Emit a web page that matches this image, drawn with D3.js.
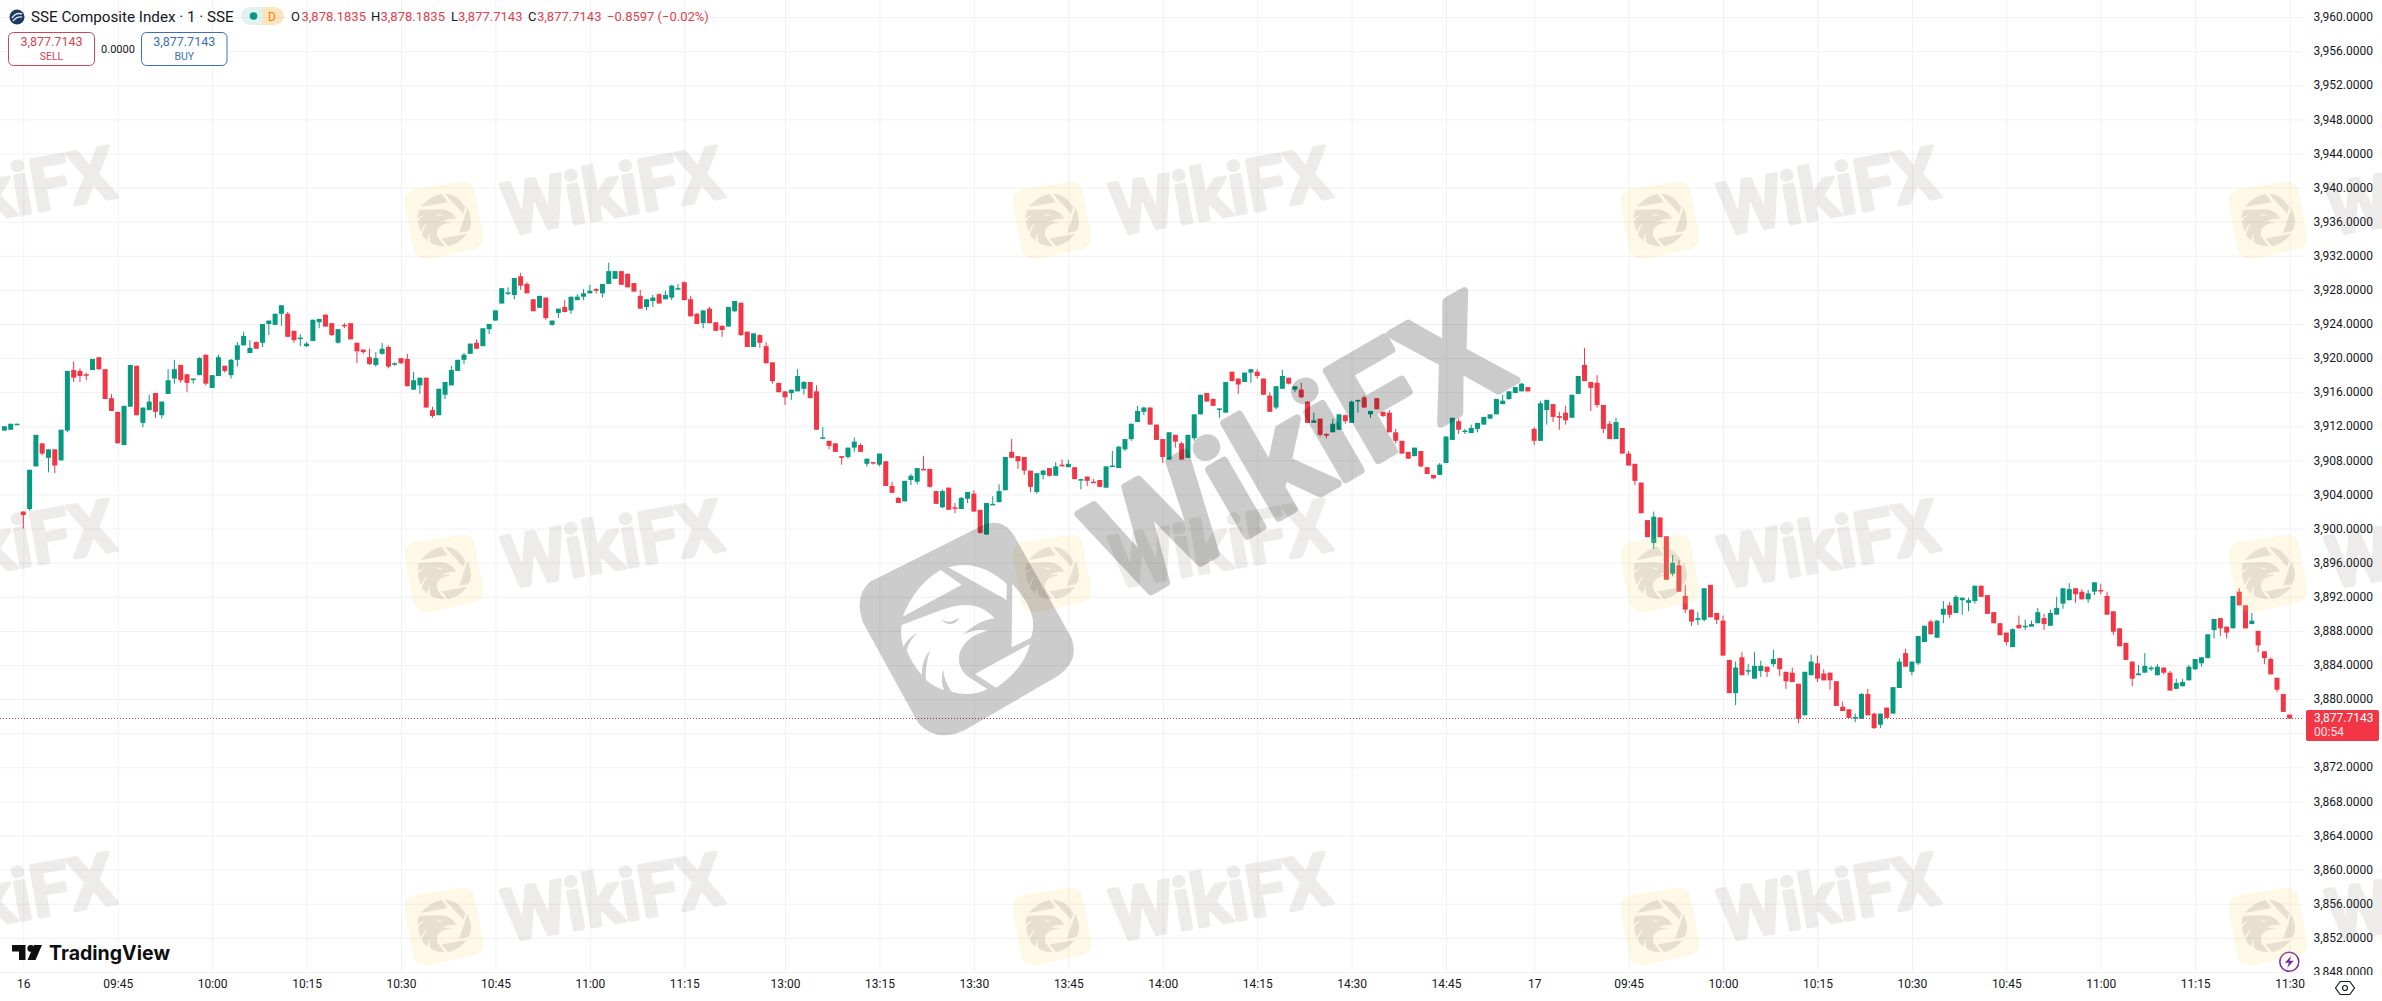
<!DOCTYPE html>
<html>
<head>
<meta charset="utf-8">
<title>SSE Composite Index</title>
<script src="https://cdn.jsdelivr.net/npm/d3@7"></script>
<style>
    html, body { margin: 0; padding: 0; background: #fff; overflow: hidden; }
    text { font-family: Roboto, "Liberation Sans", sans-serif; }
</style>
</head>
<body>
<div id="chart"></div>
<script>
// One-minute candles, first three bars are the tail of the previous session
const opens = [
    3911.5,3911.6,3912.2,3902.0,3902.3,3907.3,3910.0,3908.3,3909.3,3908.0,
    3911.5,3918.6,3918.5,3918.1,3918.6,3920.1,3918.7,3915.3,3913.7,3909.8,
    3914.3,3919.1,3912.4,3913.9,3915.9,3913.3,3915.8,3917.6,3919.2,3918.1,
    3917.5,3918.0,3920.4,3916.5,3917.9,3919.1,3918.0,3919.8,3921.5,3920.6,
    3921.9,3921.8,3924.0,3923.9,3925.2,3925.2,3923.2,3922.3,3921.4,3922.0,
    3924.2,3925.1,3924.1,3921.8,3923.9,3924.1,3921.8,3921.0,3920.1,3919.2,
    3920.5,3921.3,3919.3,3920.0,3919.9,3916.3,3916.8,3917.7,3913.9,3913.3,
    3915.7,3916.8,3918.5,3919.8,3920.5,3921.8,3921.4,3923.4,3924.4,3926.4,
    3927.6,3927.4,3929.6,3928.7,3926.9,3925.9,3927.1,3923.9,3925.3,3926.0,
    3925.6,3926.8,3927.2,3927.6,3928.1,3927.6,3928.7,3929.3,3930.2,3929.9,
    3928.8,3927.3,3926.0,3926.7,3927.5,3926.9,3927.1,3928.1,3928.9,3926.9,
    3925.2,3924.1,3925.8,3924.2,3923.8,3923.7,3925.5,3926.5,3923.1,3921.3,
    3922.7,3921.4,3919.5,3917.1,3916.1,3915.9,3916.1,3916.4,3917.2,3916.1,
    3910.6,3910.3,3910.0,3908.5,3908.4,3909.5,3909.8,3907.6,3907.8,3907.5,
    3907.9,3905.0,3903.6,3903.2,3905.7,3905.5,3907.0,3907.0,3904.4,3902.5,
    3904.8,3902.5,3902.3,3903.5,3904.1,3902.2,3899.3,3902.8,3903.1,3904.5,
    3909.0,3908.5,3908.4,3906.8,3904.3,3906.3,3907.1,3906.2,3907.5,3907.2,
    3907.2,3905.7,3906.1,3905.5,3905.7,3904.8,3907.3,3907.1,3909.3,3910.5,
    3912.5,3913.7,3914.2,3912.2,3910.5,3908.1,3911.0,3910.0,3908.3,3910.6,
    3913.4,3915.9,3915.2,3914.0,3913.6,3918.4,3917.6,3917.2,3918.3,3918.4,
    3917.6,3915.6,3914.2,3916.4,3917.7,3916.3,3916.3,3914.9,3912.4,3912.9,
    3911.1,3911.3,3911.6,3913.3,3912.4,3914.9,3915.4,3913.4,3915.3,3913.7,
    3913.6,3911.3,3910.3,3909.0,3908.5,3909.1,3907.2,3906.3,3906.3,3907.7,
    3910.4,3912.6,3911.4,3911.2,3911.7,3912.2,3912.9,3913.4,3914.6,3915.2,
    3915.9,3916.1,3916.6,3911.7,3910.3,3913.9,3914.6,3913.2,3913.6,3913.0,
    3915.8,3919.2,3917.2,3917.1,3914.5,3912.3,3910.5,3911.8,3908.8,3907.6,
    3905.4,3901.0,3898.3,3901.3,3899.1,3894.7,3895.7,3892.1,3890.5,3889.3,
    3889.3,3893.4,3890.1,3889.2,3884.6,3880.7,3884.9,3883.3,3882.4,3883.3,
    3883.8,3884.1,3884.8,3883.2,3883.1,3881.8,3878.1,3882.8,3884.2,3883.0,
    3883.1,3882.1,3879.1,3878.8,3877.8,3877.7,3880.6,3878.3,3877.0,3879.0,
    3878.3,3881.3,3885.4,3883.2,3884.2,3886.7,3889.1,3887.2,3889.9,3891.0,
    3890.1,3891.6,3891.3,3891.5,3893.3,3892.2,3890.2,3888.9,3887.8,3886.1,
    3888.7,3888.5,3888.5,3888.9,3889.5,3888.6,3889.9,3891.2,3891.6,3893.0,
    3892.6,3891.7,3892.6,3892.8,3892.1,3890.3,3888.3,3886.6,3884.4,3882.8,
    3883.1,3883.5,3882.8,3883.7,3883.1,3881.2,3881.5,3882.2,3883.5,3884.2,
    3884.8,3888.1,3889.5,3888.5,3888.3,3892.6,3891.0,3888.8,3888.0,3885.6,
    3884.7,3882.5,3880.6,3878.1835
];
const highs = [
    3912.0,3912.3,3912.3,3902.0,3906.9,3911.0,3910.0,3909.3,3909.3,3911.6,
    3918.5,3919.6,3918.8,3918.3,3919.9,3920.1,3918.7,3915.8,3913.7,3914.4,
    3919.2,3919.1,3914.2,3915.7,3915.9,3914.9,3918.7,3919.8,3919.2,3918.1,
    3917.6,3920.1,3920.4,3918.0,3920.4,3919.1,3919.9,3921.9,3923.1,3922.1,
    3921.9,3924.0,3924.4,3925.2,3926.2,3925.4,3923.2,3922.8,3921.9,3924.5,
    3924.6,3925.1,3924.1,3923.4,3924.1,3924.1,3921.8,3921.0,3921.1,3920.7,
    3921.8,3921.5,3919.5,3920.0,3920.5,3918.4,3917.7,3917.7,3914.3,3916.4,
    3917.2,3919.1,3919.8,3920.6,3921.7,3922.2,3923.5,3924.0,3925.6,3928.2,
    3928.3,3929.4,3930.0,3928.9,3926.9,3927.3,3927.1,3924.4,3925.8,3926.8,
    3927.2,3927.5,3928.1,3928.6,3928.2,3928.7,3931.2,3930.2,3930.2,3929.9,
    3928.8,3928.0,3926.9,3927.4,3927.6,3927.9,3928.6,3928.7,3929.0,3927.3,
    3925.3,3925.6,3926.0,3924.2,3923.8,3926.0,3926.7,3926.5,3923.1,3922.9,
    3922.8,3921.9,3919.5,3917.1,3916.1,3916.3,3918.7,3917.3,3917.2,3916.8,
    3911.9,3910.3,3910.0,3908.5,3909.5,3910.7,3910.0,3908.2,3907.8,3908.8,
    3907.9,3905.5,3903.7,3905.6,3906.4,3907.1,3908.5,3907.0,3904.4,3904.6,
    3904.8,3903.0,3903.7,3904.3,3904.5,3902.2,3903.0,3903.8,3905.2,3908.4,
    3910.5,3908.5,3908.4,3906.8,3906.5,3906.9,3907.1,3907.8,3908.1,3908.1,
    3907.2,3905.8,3906.1,3905.8,3905.7,3907.3,3909.1,3909.7,3910.5,3912.3,
    3914.4,3914.3,3914.2,3912.2,3910.5,3911.3,3911.0,3910.2,3911.0,3913.4,
    3915.7,3915.9,3915.3,3914.1,3917.2,3918.4,3917.6,3918.3,3918.7,3918.7,
    3917.6,3916.0,3916.7,3918.6,3917.7,3916.7,3917.1,3914.9,3913.6,3912.9,
    3911.2,3912.9,3913.4,3913.4,3915.0,3915.1,3915.6,3913.8,3915.3,3913.7,
    3913.9,3911.7,3910.3,3909.0,3909.5,3909.1,3907.2,3906.3,3907.7,3910.8,
    3913.0,3912.9,3911.7,3912.2,3912.4,3913.1,3913.4,3915.2,3915.7,3916.1,
    3916.6,3917.1,3916.6,3911.9,3915.0,3915.1,3914.6,3913.7,3914.4,3915.7,
    3917.9,3921.2,3917.2,3918.0,3914.5,3912.6,3913.0,3911.8,3909.1,3907.6,
    3905.4,3901.0,3902.0,3901.3,3899.1,3896.9,3896.3,3893.4,3890.5,3890.2,
    3893.0,3893.4,3890.1,3889.8,3884.6,3884.4,3885.5,3884.1,3885.5,3884.5,
    3883.8,3885.8,3884.8,3883.2,3883.7,3881.8,3883.2,3885.2,3885.1,3883.5,
    3883.1,3882.1,3879.7,3878.8,3878.3,3880.7,3881.2,3878.4,3878.3,3879.0,
    3881.4,3884.8,3885.9,3884.4,3887.4,3888.6,3889.3,3889.3,3891.5,3891.4,
    3892.2,3891.9,3891.9,3893.3,3893.3,3892.2,3890.2,3888.9,3887.8,3888.3,
    3889.8,3889.3,3889.2,3890.7,3890.0,3890.5,3892.0,3893.0,3893.6,3893.0,
    3892.9,3892.8,3893.7,3893.5,3892.6,3890.3,3888.3,3886.6,3884.4,3884.0,
    3885.4,3883.9,3884.1,3883.7,3883.3,3882.4,3882.4,3884.0,3884.7,3884.9,
    3887.6,3889.4,3889.5,3888.5,3892.1,3893.0,3891.0,3890.1,3888.0,3885.6,
    3884.9,3882.5,3880.6,3878.1835
];
const lows = [
    3911.5,3911.6,3912.2,3900.0,3902.1,3907.3,3908.6,3906.6,3906.5,3908.0,
    3911.3,3917.2,3917.2,3917.4,3918.6,3918.6,3915.2,3913.8,3910.0,3909.8,
    3914.3,3913.3,3911.9,3913.9,3913.0,3912.9,3915.8,3917.0,3917.1,3916.0,
    3917.0,3918.0,3916.8,3916.5,3917.9,3918.3,3917.6,3919.0,3921.5,3920.6,
    3921.1,3921.3,3922.7,3923.9,3923.8,3922.5,3921.8,3921.4,3921.3,3922.0,
    3923.5,3923.7,3922.6,3921.7,3923.5,3922.2,3919.4,3920.5,3919.2,3919.0,
    3920.4,3918.8,3919.1,3919.3,3916.7,3916.3,3915.8,3914.2,3913.0,3913.3,
    3915.2,3916.8,3918.5,3919.3,3920.5,3921.1,3921.4,3922.8,3924.4,3926.4,
    3927.4,3926.9,3928.0,3927.6,3925.5,3925.9,3924.5,3923.8,3924.7,3925.4,
    3925.2,3926.8,3926.8,3927.6,3927.6,3927.1,3928.7,3929.3,3928.6,3928.3,
    3927.8,3925.8,3925.6,3926.0,3926.4,3926.9,3926.8,3928.1,3926.8,3924.9,
    3924.0,3923.5,3924.1,3923.2,3922.5,3923.7,3925.4,3922.6,3921.3,3921.3,
    3921.2,3919.4,3917.0,3916.0,3914.5,3915.1,3916.1,3915.7,3915.3,3911.6,
    3910.6,3909.3,3909.0,3907.5,3908.2,3909.0,3909.0,3907.3,3907.5,3907.3,
    3905.0,3904.2,3903.0,3903.2,3905.1,3905.2,3906.9,3904.8,3902.9,3902.4,
    3902.2,3901.8,3902.3,3903.0,3902.0,3899.4,3899.3,3902.8,3903.1,3904.5,
    3908.3,3907.0,3906.3,3904.3,3904.1,3905.8,3906.1,3906.2,3907.3,3907.2,
    3905.8,3904.6,3905.0,3905.4,3904.9,3904.8,3907.3,3907.1,3909.1,3910.3,
    3912.5,3913.3,3912.2,3910.4,3907.7,3908.1,3909.5,3908.1,3908.3,3910.3,
    3913.4,3914.9,3914.4,3913.0,3913.6,3917.3,3915.8,3917.2,3917.1,3917.6,
    3915.7,3913.7,3914.0,3916.4,3916.9,3916.0,3915.3,3912.4,3912.4,3910.8,
    3910.6,3911.3,3911.6,3912.3,3912.4,3913.6,3914.2,3913.0,3914.0,3913.1,
    3911.3,3910.0,3908.8,3908.2,3908.5,3907.2,3906.4,3905.8,3906.3,3907.7,
    3910.4,3911.1,3911.1,3911.2,3911.3,3912.2,3912.9,3913.4,3914.6,3915.1,
    3915.9,3916.1,3916.1,3909.8,3910.3,3912.2,3912.5,3911.6,3912.2,3913.0,
    3915.8,3917.3,3913.8,3914.2,3911.2,3910.5,3910.5,3908.8,3907.4,3905.1,
    3901.8,3899.0,3897.6,3899.0,3894.0,3894.4,3892.6,3890.1,3888.6,3888.7,
    3889.1,3889.6,3888.8,3885.1,3880.7,3879.3,3882.8,3882.8,3882.4,3882.6,
    3882.6,3883.8,3882.7,3881.2,3882.0,3877.2,3878.1,3882.8,3882.0,3882.2,
    3881.1,3879.2,3878.6,3877.8,3877.3,3877.7,3878.1,3876.5,3876.6,3877.8,
    3878.3,3881.3,3883.8,3882.8,3884.0,3886.7,3887.6,3887.2,3888.9,3889.5,
    3890.1,3889.9,3890.3,3891.2,3892.0,3890.0,3888.9,3887.5,3886.3,3886.1,
    3888.3,3888.1,3888.5,3888.9,3888.1,3888.6,3889.9,3890.6,3891.6,3891.3,
    3891.7,3891.3,3892.2,3892.3,3889.9,3887.5,3886.2,3884.6,3881.5,3882.8,
    3883.1,3883.3,3882.8,3882.9,3881.0,3881.2,3881.5,3882.2,3883.4,3883.8,
    3884.8,3887.1,3887.4,3887.1,3888.3,3891.0,3888.3,3888.8,3885.5,3884.1,
    3882.9,3880.8,3878.5,3877.7143
];
const closes = [
    3912.0,3912.3,3912.3,3901.6,3906.9,3911.0,3908.8,3909.3,3907.4,3911.6,
    3918.5,3917.7,3917.9,3918.0,3919.9,3918.7,3915.2,3913.8,3910.0,3914.4,
    3919.2,3913.3,3914.2,3914.9,3913.7,3914.9,3917.4,3918.7,3917.4,3917.1,
    3917.6,3920.0,3917.0,3918.0,3920.1,3918.5,3919.8,3921.5,3922.6,3921.2,
    3921.1,3924.0,3924.4,3925.2,3926.2,3922.5,3922.1,3922.4,3921.7,3924.5,
    3924.6,3923.7,3922.7,3923.4,3923.8,3922.2,3920.8,3920.7,3919.3,3920.0,
    3921.1,3919.0,3919.4,3919.4,3916.7,3917.4,3917.7,3914.2,3913.2,3916.4,
    3917.2,3918.6,3919.8,3920.4,3921.7,3921.1,3923.5,3924.0,3925.6,3928.2,
    3927.7,3929.4,3928.5,3927.6,3925.5,3927.3,3924.7,3924.4,3925.8,3925.4,
    3927.2,3927.2,3927.6,3927.9,3927.9,3928.7,3930.2,3930.2,3928.6,3928.3,
    3927.8,3925.8,3926.9,3927.1,3926.4,3927.4,3928.5,3928.2,3926.8,3924.9,
    3924.0,3925.6,3924.1,3923.2,3923.3,3926.0,3926.7,3922.7,3921.3,3922.9,
    3921.8,3919.4,3917.3,3916.0,3915.4,3916.3,3917.9,3917.2,3915.3,3911.6,
    3910.7,3909.7,3909.0,3908.3,3909.5,3910.2,3909.0,3908.2,3907.7,3908.8,
    3905.0,3904.2,3903.0,3905.6,3906.2,3907.1,3906.9,3904.9,3902.9,3904.4,
    3902.2,3902.4,3903.6,3904.3,3902.0,3899.5,3903.0,3902.9,3904.4,3908.4,
    3908.3,3907.9,3906.8,3904.9,3906.5,3906.8,3906.2,3907.3,3907.3,3907.6,
    3905.8,3905.8,3905.6,3905.4,3904.9,3907.3,3907.4,3909.6,3910.5,3912.3,
    3913.8,3914.2,3912.2,3910.4,3908.4,3911.3,3910.2,3908.1,3911.0,3913.4,
    3915.7,3914.9,3914.4,3914.1,3917.2,3917.3,3916.9,3918.3,3918.7,3917.9,
    3915.7,3913.7,3916.7,3917.9,3917.0,3916.7,3915.4,3912.4,3912.7,3911.0,
    3910.9,3912.3,3913.4,3912.6,3914.9,3915.1,3914.2,3913.8,3914.0,3913.2,
    3911.3,3910.3,3908.8,3908.2,3909.5,3907.3,3906.4,3905.9,3907.5,3910.8,
    3913.0,3911.6,3911.5,3911.8,3912.4,3913.1,3913.4,3915.2,3915.0,3916.1,
    3916.6,3917.0,3916.1,3910.3,3914.7,3915.1,3913.1,3913.0,3912.7,3915.7,
    3917.9,3917.3,3916.5,3914.5,3911.7,3910.5,3912.5,3908.8,3907.4,3905.6,
    3901.8,3899.0,3901.4,3899.0,3894.0,3896.0,3892.6,3890.5,3889.1,3889.5,
    3893.0,3889.6,3889.3,3885.1,3880.7,3883.7,3882.8,3883.4,3883.9,3883.9,
    3883.2,3884.7,3883.5,3882.1,3882.0,3877.7,3883.2,3884.4,3882.4,3882.2,
    3882.2,3879.2,3878.6,3877.8,3877.9,3880.6,3878.1,3876.6,3878.3,3877.8,
    3881.4,3884.4,3883.8,3884.4,3887.4,3888.6,3887.6,3889.2,3890.6,3889.9,
    3892.0,3891.9,3891.6,3893.3,3892.0,3890.0,3888.9,3887.5,3886.7,3888.2,
    3888.3,3888.6,3888.8,3890.2,3888.8,3890.1,3890.7,3893.0,3892.9,3892.3,
    3891.7,3892.4,3893.7,3892.7,3889.9,3887.9,3886.2,3884.6,3882.4,3883.0,
    3883.9,3883.7,3883.8,3883.1,3881.0,3881.9,3882.0,3883.8,3884.7,3884.9,
    3887.6,3889.4,3888.3,3887.8,3892.1,3891.0,3888.3,3889.2,3886.3,3884.8,
    3882.9,3881.1,3878.5,3877.7143
];
const firstBar = -3;

const timeTickBars = [0, 15, 30, 45, 60, 75, 90, 105, 121, 136, 151, 166, 181, 196, 211, 226, 240, 255, 270, 285, 300, 315, 330, 345, 360];
const timeTickLabels = ['16', '09:45', '10:00', '10:15', '10:30', '10:45', '11:00', '11:15', '13:00', '13:15', '13:30', '13:45', '14:00', '14:15', '14:30', '14:45', '17', '09:45', '10:00', '10:15', '10:30', '10:45', '11:00', '11:15', '11:30'];
const priceTicks = [3848, 3852, 3856, 3860, 3864, 3868, 3872, 3876, 3880, 3884, 3888, 3892, 3896, 3900, 3904, 3908, 3912, 3916, 3920, 3924, 3928, 3932, 3936, 3940, 3944, 3948, 3952, 3956, 3960];
const lastPrice = 3877.7143;

const width = 2382;
const height = 1001;
const paneRight = 2303;
const paneBottom = 971;
const UP = '#089981';
const DOWN = '#F23645';
const GRID = '#f0f1f4';
const INK = '#131722';

const x = d3.scaleLinear().domain([0, 360]).range([23.3, 2289.6]);
const y = d3.scaleLinear().domain([3848, 3960]).range([971.9, 17.1]);
const priceFormat = d3.format(',.4f');

const svg = d3.select('#chart').append('svg')
    .attr('width', width)
    .attr('height', height)
    .style('display', 'block');

svg.append('rect').attr('width', width).attr('height', height).attr('fill', '#fff');

const defs = svg.append('defs');
defs.append('clipPath').attr('id', 'price-clip')
    .append('rect').attr('x', 2304).attr('y', 0).attr('width', 78).attr('height', 975);

// Grid comes from the axes themselves
svg.append('g')
    .attr('transform', `translate(${paneRight},0)`)
    .call(d3.axisLeft(y).tickValues(priceTicks).tickSize(paneRight).tickFormat(''))
    .call(g => g.select('.domain').remove())
    .call(g => g.selectAll('line').attr('stroke', GRID));

svg.append('g')
    .attr('transform', `translate(0,${paneBottom})`)
    .call(d3.axisTop(x).tickValues(timeTickBars).tickSize(paneBottom).tickFormat(''))
    .call(g => g.select('.domain').remove())
    .call(g => g.selectAll('line').attr('stroke', GRID));

// Candles
const bars = closes.map((c, i) => ({
    bar: firstBar + i,
    open: opens[i],
    high: highs[i],
    low: lows[i],
    close: c
}));
const colorOf = d => d.close >= d.open ? UP : DOWN;

const candles = svg.append('g').selectAll('g').data(bars).join('g');

candles.append('line')
    .attr('x1', d => x(d.bar))
    .attr('x2', d => x(d.bar))
    .attr('y1', d => y(d.high))
    .attr('y2', d => y(d.low))
    .attr('stroke', colorOf)
    .attr('stroke-width', 1);

candles.append('rect')
    .attr('x', d => x(d.bar) - 2.5)
    .attr('width', 5)
    .attr('y', d => y(Math.max(d.open, d.close)))
    .attr('height', d => Math.max(Math.abs(y(d.open) - y(d.close)), 1.5))
    .attr('fill', colorOf);

// Last price line
svg.append('line')
    .attr('x1', 0)
    .attr('x2', paneRight)
    .attr('y1', Math.floor(y(lastPrice)) + 0.5)
    .attr('y2', Math.floor(y(lastPrice)) + 0.5)
    .attr('stroke', '#b0414c')
    .attr('stroke-width', 1)
    .attr('stroke-dasharray', '1 2');

// Price axis, the 3,876 label sits under the last price tag so it is left out
svg.append('g')
    .attr('clip-path', 'url(#price-clip)')
    .append('g')
    .attr('transform', 'translate(2373,0)')
    .call(d3.axisRight(y).tickValues(priceTicks.filter(d => d !== 3876)).tickSize(0).tickPadding(0).tickFormat(priceFormat))
    .call(g => g.select('.domain').remove())
    .call(g => g.selectAll('text')
        .attr('text-anchor', 'end')
        .attr('dy', '0.3em')
        .attr('fill', INK)
        .style('font-family', 'Roboto')
        .style('font-size', '12px'));

// Time axis
svg.append('g')
    .attr('transform', 'translate(0,979)')
    .call(d3.axisBottom(x).tickValues(timeTickBars).tickSize(0).tickPadding(0)
        .tickFormat((d, i) => timeTickLabels[i]))
    .call(g => g.select('.domain').remove())
    .call(g => g.selectAll('text')
        .attr('fill', INK)
        .style('font-family', 'Roboto')
        .style('font-size', '12px'));

// Last price tag
svg.append('rect')
    .attr('x', 2306).attr('y', 710)
    .attr('width', 73).attr('height', 31)
    .attr('rx', 2)
    .attr('fill', DOWN);
svg.append('text')
    .attr('x', 2314).attr('y', 722)
    .attr('fill', '#fff')
    .attr('font-size', 12)
    .text(priceFormat(lastPrice));
svg.append('text')
    .attr('x', 2314).attr('y', 736)
    .attr('fill', '#ffe3e6')
    .attr('font-size', 12)
    .text('00:54');

// Header: symbol logo and name
const logo = svg.append('g').attr('transform', 'translate(17,17)');
logo.append('circle').attr('r', 7.5).attr('fill', '#1e3a63');
logo.append('path').attr('d', 'M-5,1 Q-1,-5 5,-3').attr('fill', 'none').attr('stroke', '#dfe8f5').attr('stroke-width', 1.4);
logo.append('path').attr('d', 'M-4,4 Q0,-1 5,0').attr('fill', 'none').attr('stroke', '#dfe8f5').attr('stroke-width', 1.4);

svg.append('text')
    .attr('x', 31).attr('y', 22)
    .attr('fill', INK)
    .attr('font-size', 15.2)
    .text('SSE Composite Index · 1 · SSE');

// Market status pill
svg.append('path').attr('d', 'M250,7 H262 V25 H250 a9,9 0 0 1 0,-18 Z').attr('fill', '#089981').attr('opacity', 0.12);
svg.append('path').attr('d', 'M262,7 H275 a9,9 0 0 1 0,18 H262 Z').attr('fill', '#ff9800').attr('opacity', 0.25);
svg.append('circle').attr('cx', 253.5).attr('cy', 16).attr('r', 3.8).attr('fill', UP);
svg.append('text')
    .attr('x', 272).attr('y', 20.5)
    .attr('text-anchor', 'middle')
    .attr('fill', '#f57c00')
    .attr('font-size', 12)
    .text('D');

// OHLC readout
const legend = [
    { label: 'O', value: '3,878.1835', lx: 291, vx: 301.5 },
    { label: 'H', value: '3,878.1835', lx: 371, vx: 380.5 },
    { label: 'L', value: '3,877.7143', lx: 451, vx: 458 },
    { label: 'C', value: '3,877.7143', lx: 528, vx: 537 }
];
legend.forEach(d => {
    svg.append('text').attr('x', d.lx).attr('y', 21).attr('fill', INK).attr('font-size', 13).text(d.label);
    svg.append('text').attr('x', d.vx).attr('y', 21).attr('fill', '#e2404f').attr('font-size', 13).text(d.value);
});
svg.append('text').attr('x', 607).attr('y', 21).attr('fill', '#e2404f').attr('font-size', 13).text('−0.8597 (−0.02%)');

// Sell and buy buttons
function tradeButton(left, right, color, price, side) {
    svg.append('rect')
        .attr('x', left).attr('y', 32.5)
        .attr('width', right - left).attr('height', 33)
        .attr('rx', 5)
        .attr('fill', '#fff')
        .attr('stroke', color);
    svg.append('text')
        .attr('x', (left + right) / 2).attr('y', 46)
        .attr('text-anchor', 'middle')
        .attr('fill', color)
        .attr('font-size', 12.5)
        .text(price);
    svg.append('text')
        .attr('x', (left + right) / 2).attr('y', 60)
        .attr('text-anchor', 'middle')
        .attr('fill', color)
        .attr('font-size', 10.5)
        .text(side);
}
tradeButton(8.5, 94.5, '#cf4655', '3,877.7143', 'SELL');
tradeButton(141.5, 227, '#3d6fb6', '3,877.7143', 'BUY');
svg.append('text')
    .attr('x', 118).attr('y', 52.5)
    .attr('text-anchor', 'middle')
    .attr('fill', INK)
    .attr('font-size', 11)
    .text('0.0000');

// TradingView mark
svg.append('path').attr('d', 'M12,945 H25.5 V960 H19 V951.5 H12 Z').attr('fill', '#0f0f0f');
svg.append('circle').attr('cx', 30.8).attr('cy', 948.4).attr('r', 3.4).attr('fill', '#0f0f0f');
svg.append('path').attr('d', 'M42,945 L35.5,960 H27.5 L34,945 Z').attr('fill', '#0f0f0f');
svg.append('text')
    .attr('x', 49).attr('y', 960)
    .attr('fill', '#0f0f0f')
    .attr('font-size', 20)
    .attr('font-weight', 700)
    .style('font-family', 'Inter, Roboto')
    .attr('textLength', 121)
    .attr('lengthAdjust', 'spacingAndGlyphs')
    .text('TradingView');

// Lightning badge and settings hexagon
const bolt = svg.append('g').attr('transform', 'translate(2289.3,961.7)');
bolt.append('circle').attr('r', 9.5).attr('fill', '#fff').attr('stroke', '#7b2d9b').attr('stroke-width', 1.5);
bolt.append('path').attr('d', 'M2,-6 L-4.5,1 H-0.5 L-2,6 L4.5,-1 H0.5 Z').attr('fill', '#7b2d9b');

const hex = svg.append('g').attr('transform', 'translate(2345,988)');
hex.append('path').attr('d', 'M-9.5,0 L-4.8,-6.5 H4.8 L9.5,0 L4.8,6.5 H-4.8 Z').attr('fill', 'none').attr('stroke', INK).attr('stroke-width', 1.2);
hex.append('circle').attr('r', 2.5).attr('fill', 'none').attr('stroke', INK).attr('stroke-width', 1.2);

// WikiFX watermark. Shapes are in the big badge's own frame, centred on 350,358
const badgeShape = 'M60,215 L400,45 Q465,20 500,90 L665,385 Q690,455 620,500 L345,660 Q260,700 205,640 L40,340 Q10,260 60,215 Z';
const eagleShape = [
    'M158,320 Q195,225 272,180 L335,224 Z',
    'M295,172 Q385,145 470,222 L470,270 Z',
    'M487,222 Q570,310 543,383 L485,412 Z',
    'M540,402 Q520,480 438,533 L375,492 Z',
    'M155,345 L280,298 Q320,285 345,285 Q400,285 433,325 Q385,330 338,375 Q375,355 415,362 Q350,375 330,425 Q315,480 370,510 L413,538 Q360,562 305,545 Q282,515 280,478 Q270,510 282,540 Q250,530 228,510 Q225,470 240,420 Q215,450 215,495 Q185,460 170,420 Q180,385 205,368 Q175,380 160,410 Q150,380 155,345 Z',
    'M275,328 Q300,345 328,322 Q320,345 298,342 Q282,340 275,328 Z'
].join(' ');

const marks = svg.append('g').attr('pointer-events', 'none');

// Repeating small logos
const tileColumns = [-164, 444, 1052, 1660, 2268];
const tileRows = [220, 573, 926];
tileRows.forEach(rowY => {
    tileColumns.forEach(colX => {
        const tile = marks.append('g')
            .attr('transform', `translate(${colX},${rowY}) rotate(18) scale(0.136) translate(-350,-358)`);
        tile.append('path').attr('d', badgeShape).attr('fill', '#fbd36b').attr('opacity', 0.17);
        tile.append('path').attr('d', eagleShape).attr('fill', '#8c8278').attr('fill-rule', 'evenodd').attr('opacity', 0.2);
        marks.append('g')
            .attr('transform', `translate(${colX + 173},${rowY - 4}) rotate(-10)`)
            .attr('opacity', 0.1)
            .append('text')
            .attr('text-anchor', 'middle')
            .attr('font-size', 72)
            .attr('font-weight', 500)
            .attr('textLength', 222)
            .attr('lengthAdjust', 'spacingAndGlyphs')
            .attr('fill', '#5c5148')
            .attr('stroke', '#5c5148')
            .attr('stroke-width', 4)
            .attr('stroke-linejoin', 'round')
            .text('WikiFX');
    });
});

// Big centre badge: eagle knocked out of the rounded square
marks.append('path')
    .attr('transform', 'translate(850,510) scale(0.3333)')
    .attr('d', badgeShape + ' ' + eagleShape)
    .attr('fill', '#000')
    .attr('fill-rule', 'evenodd')
    .attr('opacity', 0.2);

marks.append('g')
    .attr('transform', 'translate(1323,492) rotate(-30)')
    .attr('opacity', 0.2)
    .append('text')
    .attr('text-anchor', 'middle')
    .attr('font-size', 145)
    .attr('font-weight', 500)
    .attr('textLength', 452)
    .attr('lengthAdjust', 'spacingAndGlyphs')
    .attr('fill', '#000')
    .attr('stroke', '#000')
    .attr('stroke-width', 8)
    .attr('stroke-linejoin', 'round')
    .text('WikiFX');
</script>
</body>
</html>
